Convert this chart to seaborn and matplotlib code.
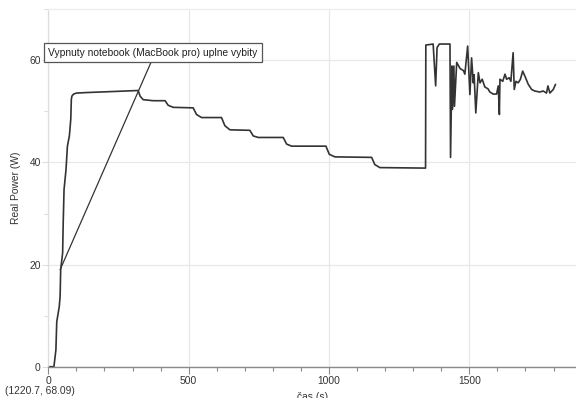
import matplotlib
matplotlib.use("Agg")
import matplotlib.pyplot as plt
from matplotlib.ticker import MultipleLocator
import seaborn as sns
import pandas as pd

# ---- data ----
time_s = [0, 20, 21, 27, 30, 39, 42, 44, 51, 53, 56, 63, 68, 75, 80, 82, 84, 90, 101, 137, 231, 320,
          327, 338, 374, 416, 427, 445, 516, 528, 546, 617, 629, 647, 718, 730, 748, 837, 849, 867,
          989, 1001, 1021, 1152, 1163, 1181, 1344, 1345, 1371, 1380, 1385, 1393, 1431, 1433, 1438,
          1440, 1445, 1447, 1455, 1467, 1479, 1484, 1494, 1502, 1508, 1514, 1517, 1523, 1532, 1538,
          1546, 1555, 1567, 1573, 1585, 1597, 1603, 1607, 1609, 1619, 1627, 1633, 1642, 1648, 1656,
          1660, 1666, 1674, 1682, 1690, 1698, 1710, 1722, 1733, 1751, 1763, 1775, 1780, 1787, 1799, 1807]
power_w = [0, 0, 0.5, 3.3, 8.8, 11.8, 13.8, 19.0, 22.3, 28.2, 34.7, 38.6, 43.2, 45.2, 48.5, 52.4, 53.0, 53.4, 53.6, 53.7, 53.9, 54.1,
           53.0, 52.3, 52.1, 52.1, 51.2, 50.8, 50.7, 49.4, 48.8, 48.8, 47.2, 46.4, 46.3, 45.2, 44.9, 44.9, 43.6, 43.2,
           43.2, 41.6, 41.1, 41.0, 39.6, 39.0, 38.9, 63.0, 63.2, 55.0, 62.5, 63.2, 63.2, 41.0, 58.9,
           50.4, 58.9, 51.0, 59.6, 58.4, 58.0, 57.3, 62.8, 53.3, 60.5, 55.6, 57.2, 49.7, 57.6, 55.6,
           56.3, 54.8, 54.4, 53.8, 53.4, 53.4, 55.0, 49.4, 56.3, 55.9, 57.3, 56.3, 56.6, 55.9, 61.5,
           54.3, 55.9, 55.6, 56.3, 57.9, 56.9, 55.3, 54.3, 54.0, 53.8, 54.0, 53.6, 55.0, 53.6, 54.3, 55.3]
annotation_text = "Vypnuty notebook (MacBook pro) uplne vybity"
annotation_point = (42, 19.0)
x_label = "čas (s)"
y_label = "Real Power (W)"
cursor_text = "(1220.7, 68.09)"

df = pd.DataFrame({"t": time_s, "p": power_w})

sns.set_theme(style="whitegrid")
plt.rcParams["font.family"] = ["Liberation Sans", "DejaVu Sans"]

FS = 7.4
fig = plt.figure(figsize=(5.76, 3.98), dpi=100)
ax = fig.add_axes([0.0839, 0.0786, 0.9161, 0.898])

sns.lineplot(data=df, x="t", y="p", estimator=None, sort=False, color="#333333",
             linewidth=1.2, ax=ax)

ax.set_xlim(0, 1880)
ax.set_ylim(0, 70)
ax.xaxis.set_major_locator(MultipleLocator(500))
ax.xaxis.set_minor_locator(MultipleLocator(100))
ax.yaxis.set_major_locator(MultipleLocator(20))
ax.yaxis.set_minor_locator(MultipleLocator(10))

ax.grid(True, which="major", color="#e8e8e8", linewidth=0.9)
ax.grid(False, which="minor")
ax.set_facecolor("white")
ax.spines["top"].set_color("#eeeeee")
ax.spines["top"].set_linewidth(1.0)
ax.spines["right"].set_visible(False)
ax.spines["left"].set_color("#dddddd")
ax.spines["left"].set_linewidth(0.9)
ax.spines["bottom"].set_color("#8a8a8a")
ax.spines["bottom"].set_linewidth(1.0)

ax.tick_params(axis="x", which="major", bottom=True, length=5, width=0.8, color="#8a8a8a",
               labelsize=FS, labelcolor="#333333", pad=2.0)
ax.tick_params(axis="x", which="minor", bottom=True, length=3, width=0.8, color="#8a8a8a")
ax.tick_params(axis="y", which="major", left=True, length=4, width=0.8, color="#dddddd",
               labelsize=FS, labelcolor="#333333", pad=1.5)
ax.tick_params(axis="y", which="minor", left=True, length=3, width=0.8, color="#dddddd")

ax.set_xlabel(x_label, fontsize=FS, color="#333333", labelpad=4)
ax.set_ylabel(y_label, fontsize=FS, color="#333333", labelpad=6)

ax.annotate(annotation_text, xy=annotation_point, xytext=(373, 61.5), textcoords="data",
            ha="center", va="center", fontsize=FS, color="#222222",
            bbox=dict(boxstyle="square,pad=0.45", fc="white", ec="#555555", lw=0.9),
            arrowprops=dict(arrowstyle="-", color="#333333", lw=0.9, relpos=(0.5, 0),
                            shrinkA=0, shrinkB=0),
            zorder=5)

fig.text(0.009, 1 - 391.5 / 398, cursor_text, fontsize=FS, color="#333333", ha="left", va="center")

fig.savefig("out.png", dpi=100)
